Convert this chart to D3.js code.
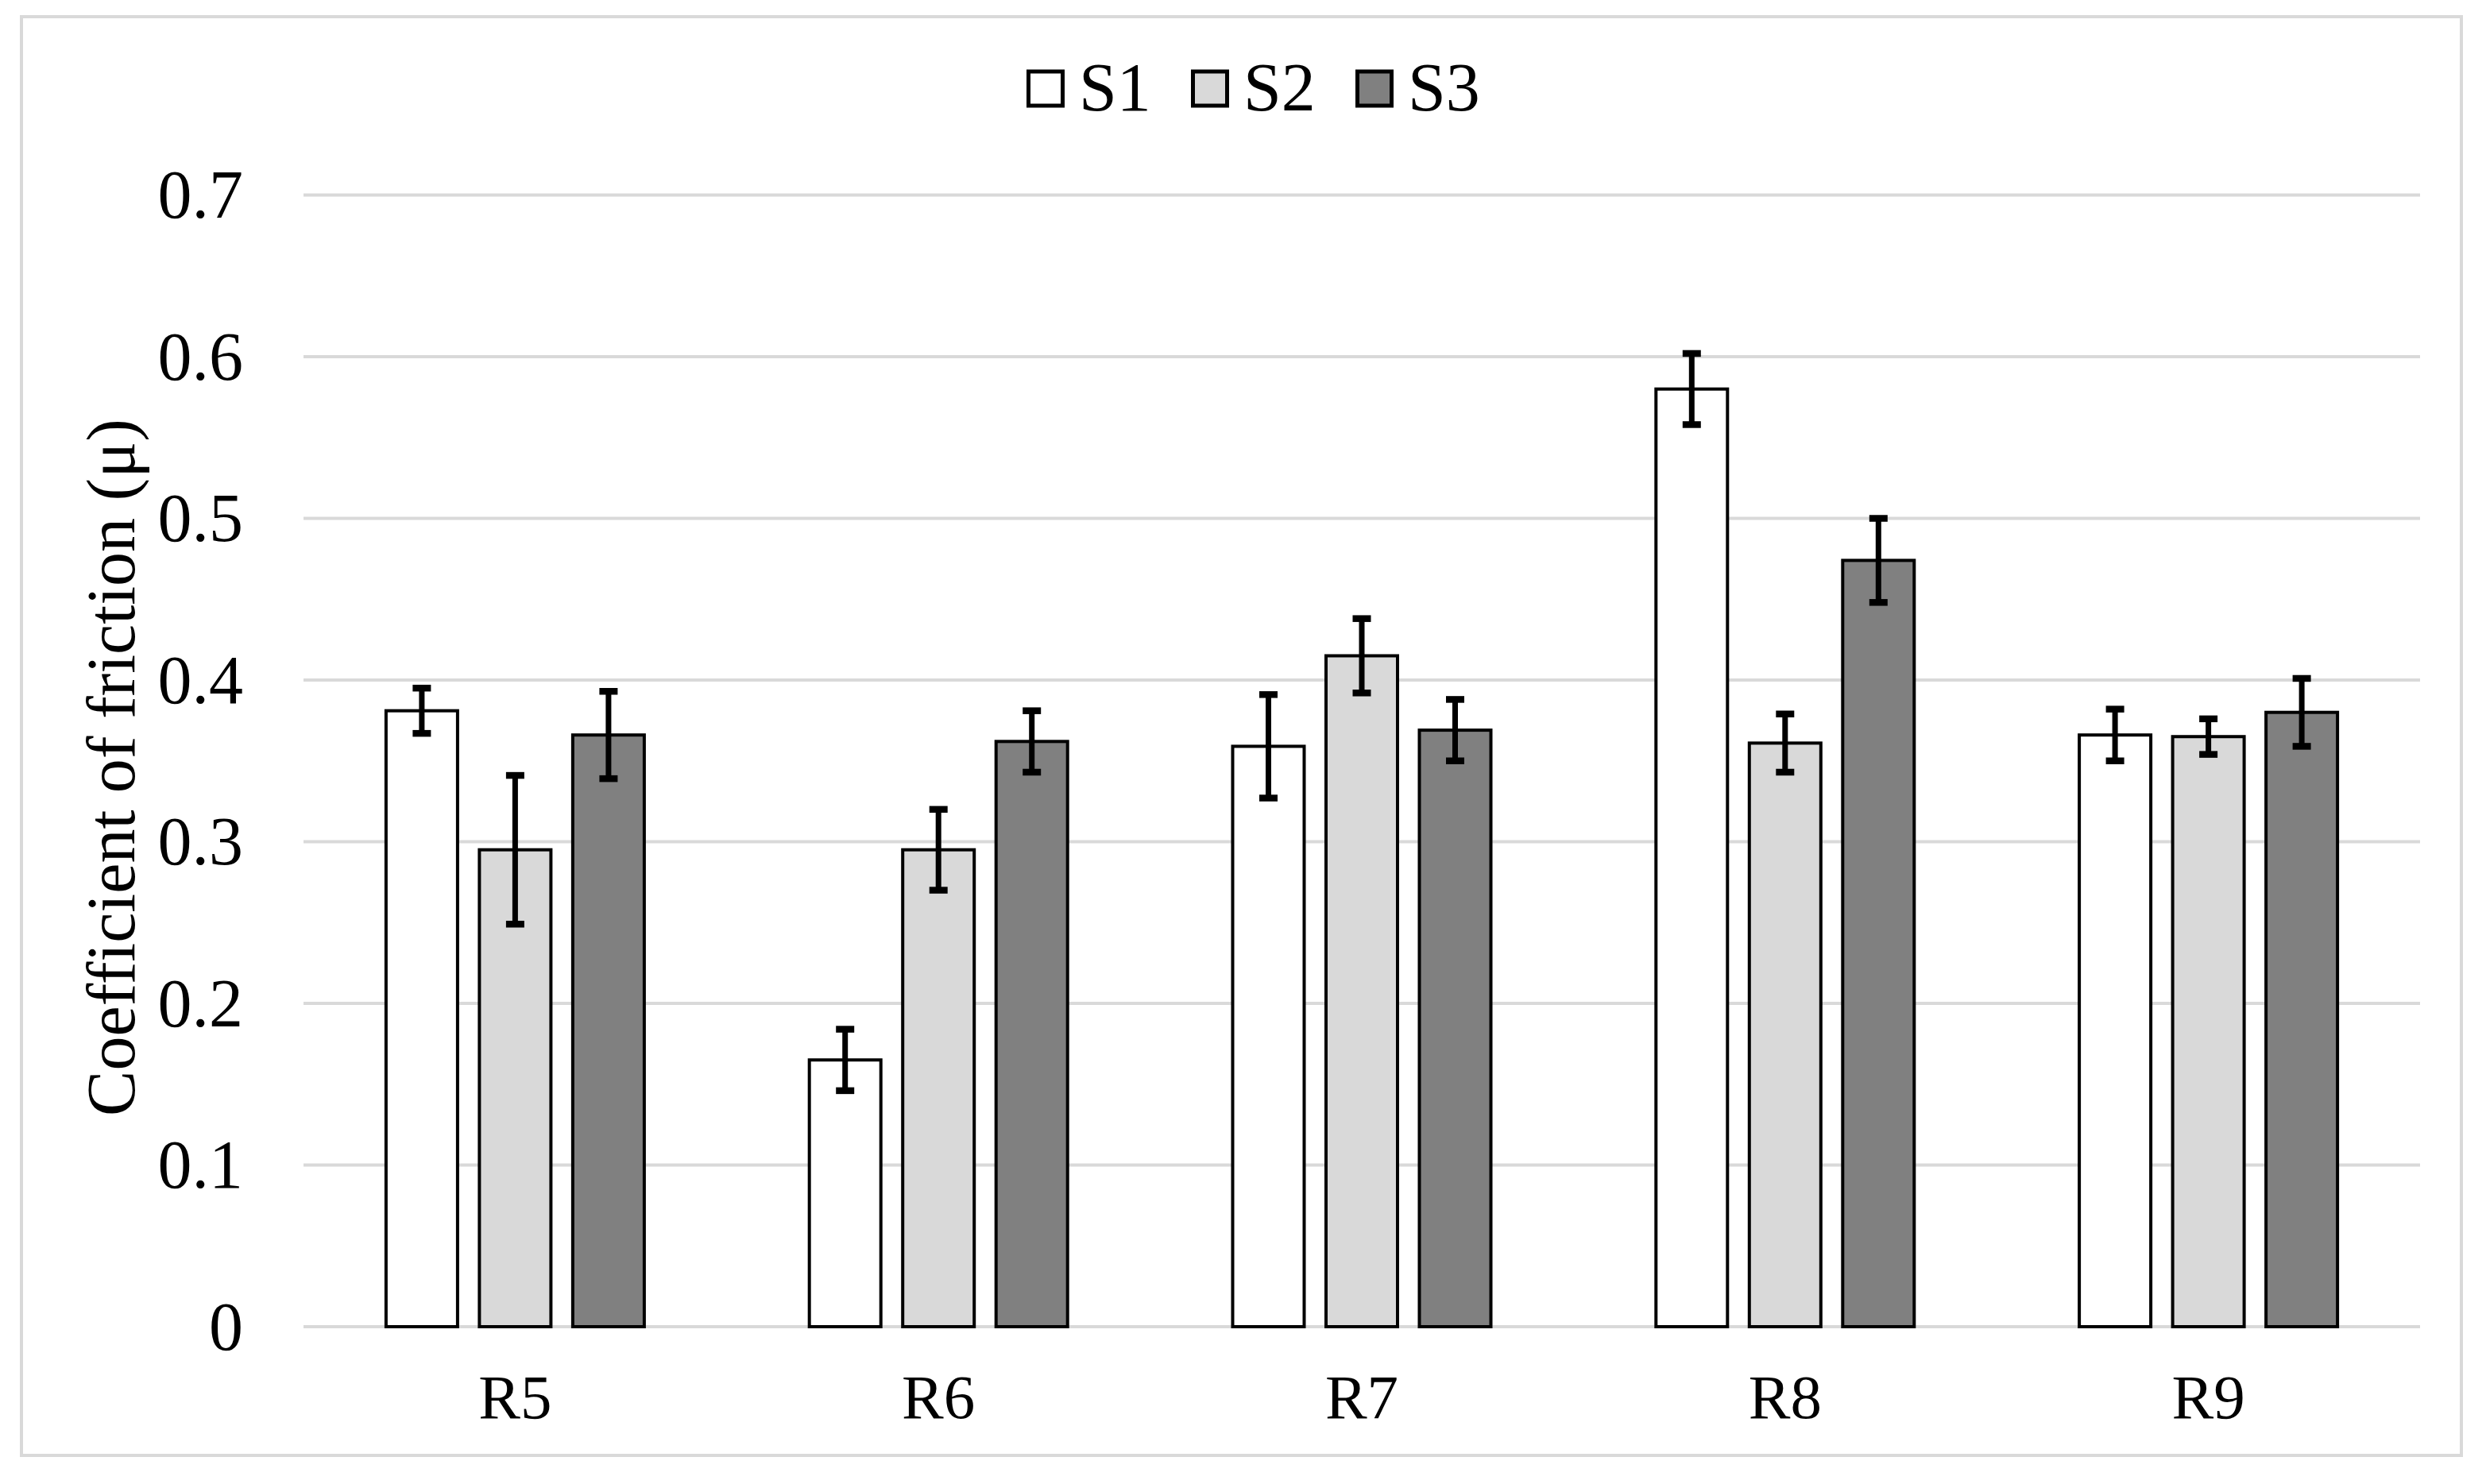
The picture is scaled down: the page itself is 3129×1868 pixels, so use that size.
<!DOCTYPE html>
<html>
<head>
<meta charset="utf-8">
<script src="https://cdn.jsdelivr.net/npm/d3@7"></script>
<style>
  html, body { margin: 0; padding: 0; background: #fff; }
  svg { display: block; }
  text { font-family: "Liberation Serif", "Times New Roman", "DejaVu Serif", serif; fill: #000; }
</style>
</head>
<body>
<script>
// ---- data ----
const categories = ["R5", "R6", "R7", "R8", "R9"];
const seriesNames = ["S1", "S2", "S3"];
const s1Values = [0.381, 0.165, 0.359, 0.580, 0.366];
const s2Values = [0.295, 0.295, 0.415, 0.361, 0.365];
const s3Values = [0.366, 0.362, 0.369, 0.474, 0.380];
const s1Errors = [0.014, 0.019, 0.032, 0.022, 0.016];
const s2Errors = [0.046, 0.025, 0.023, 0.018, 0.011];
const s3Errors = [0.027, 0.019, 0.019, 0.026, 0.021];
const yTicks = [0, 0.1, 0.2, 0.3, 0.4, 0.5, 0.6, 0.7];
const yTickLabels = ["0", "0.1", "0.2", "0.3", "0.4", "0.5", "0.6", "0.7"];
const yAxisTitle = "Coefficient of friction (μ)";
const seriesFills = ["#ffffff", "#d9d9d9", "#808080"];

const values = [s1Values, s2Values, s3Values];
const errors = [s1Errors, s2Errors, s3Errors];

// ---- layout ----
const W = 3129, H = 1868;
const plotLeft = 382, plotRight = 3046, plotTop = 245.5, plotBottom = 1670;

const svg = d3.select("body").append("svg")
  .attr("width", W).attr("height", H)
  .attr("viewBox", `0 0 ${W} ${H}`);

svg.append("rect").attr("x", 0).attr("y", 0).attr("width", W).attr("height", H).attr("fill", "#fff");

// outer chart border
svg.append("rect")
  .attr("x", 27).attr("y", 21).attr("width", 3098 - 27).attr("height", 1832 - 21)
  .attr("fill", "none").attr("stroke", "#d9d9d9").attr("stroke-width", 4);

const x0 = d3.scaleBand().domain(categories).range([plotLeft, plotRight])
  .paddingInner(0.39).paddingOuter(0.195);
const x1 = d3.scaleBand().domain(seriesNames).range([0, x0.bandwidth()])
  .paddingInner(0.234);
const y = d3.scaleLinear().domain([0, 0.7]).range([plotBottom, plotTop]);

// gridlines
svg.append("g").selectAll("line").data(yTicks).join("line")
  .attr("x1", plotLeft).attr("x2", plotRight)
  .attr("y1", d => y(d)).attr("y2", d => y(d))
  .attr("stroke", "#d9d9d9").attr("stroke-width", 4);

// y axis labels
const yAxis = d3.axisLeft(y).tickValues(yTicks)
  .tickFormat((d, i) => yTickLabels[i]).tickSize(0).tickPadding(0);
const gy = svg.append("g").attr("transform", `translate(306,0)`).call(yAxis);
gy.select(".domain").remove();
gy.selectAll("text")
  .attr("font-size", 86)
  .attr("font-family", "'Liberation Serif', 'Times New Roman', serif")
  .attr("fill", "#000")
  .attr("dy", "0.33em")
  .attr("x", 0);

// x axis labels
const xAxis = d3.axisBottom(x0).tickSize(0).tickPadding(0);
const gx = svg.append("g").attr("transform", `translate(0,${plotBottom})`).call(xAxis);
gx.select(".domain").remove();
gx.selectAll("text")
  .attr("font-size", 79)
  .attr("font-family", "'Liberation Serif', 'Times New Roman', serif")
  .attr("fill", "#000")
  .attr("dy", 0)
  .attr("y", 1785 - plotBottom);

// bars
const rows = categories.map((c, i) => ({
  cat: c,
  items: seriesNames.map((s, j) => ({ s, j, v: values[j][i], e: errors[j][i] }))
}));

const groups = svg.append("g").selectAll("g").data(rows).join("g")
  .attr("transform", d => `translate(${x0(d.cat)},0)`);

groups.selectAll("rect").data(d => d.items).join("rect")
  .attr("x", d => x1(d.s))
  .attr("y", d => y(d.v))
  .attr("width", x1.bandwidth())
  .attr("height", d => y(0) - y(d.v))
  .attr("fill", d => seriesFills[d.j])
  .attr("stroke", "#000").attr("stroke-width", 4);

// error bars
const capW = 23;
const eb = groups.selectAll("g.err").data(d => d.items).join("g").attr("class", "err");
eb.append("line")
  .attr("x1", d => x1(d.s) + x1.bandwidth() / 2)
  .attr("x2", d => x1(d.s) + x1.bandwidth() / 2)
  .attr("y1", d => y(d.v + d.e)).attr("y2", d => y(d.v - d.e))
  .attr("stroke", "#000").attr("stroke-width", 7);
eb.append("line")
  .attr("x1", d => x1(d.s) + x1.bandwidth() / 2 - capW / 2)
  .attr("x2", d => x1(d.s) + x1.bandwidth() / 2 + capW / 2)
  .attr("y1", d => y(d.v + d.e)).attr("y2", d => y(d.v + d.e))
  .attr("stroke", "#000").attr("stroke-width", 8.5);
eb.append("line")
  .attr("x1", d => x1(d.s) + x1.bandwidth() / 2 - capW / 2)
  .attr("x2", d => x1(d.s) + x1.bandwidth() / 2 + capW / 2)
  .attr("y1", d => y(d.v - d.e)).attr("y2", d => y(d.v - d.e))
  .attr("stroke", "#000").attr("stroke-width", 8.5);

// y axis title
svg.append("text")
  .attr("transform", `translate(169,966) rotate(-90)`)
  .attr("text-anchor", "middle")
  .attr("font-size", 86)
  .text(yAxisTitle);

// legend
const legendX = d3.scalePoint().domain(seriesNames).range([1292, 1706]);
const legend = svg.append("g");
seriesNames.forEach((s, j) => {
  const lx = legendX(s);
  legend.append("rect")
    .attr("x", lx + 2.5).attr("y", 87.5 + 2.5).attr("width", 43).attr("height", 43)
    .attr("fill", seriesFills[j]).attr("stroke", "#000").attr("stroke-width", 5);
  legend.append("text")
    .attr("x", lx + 66).attr("y", 139)
    .attr("font-size", 86)
    .text(s);
});
</script>
</body>
</html>
